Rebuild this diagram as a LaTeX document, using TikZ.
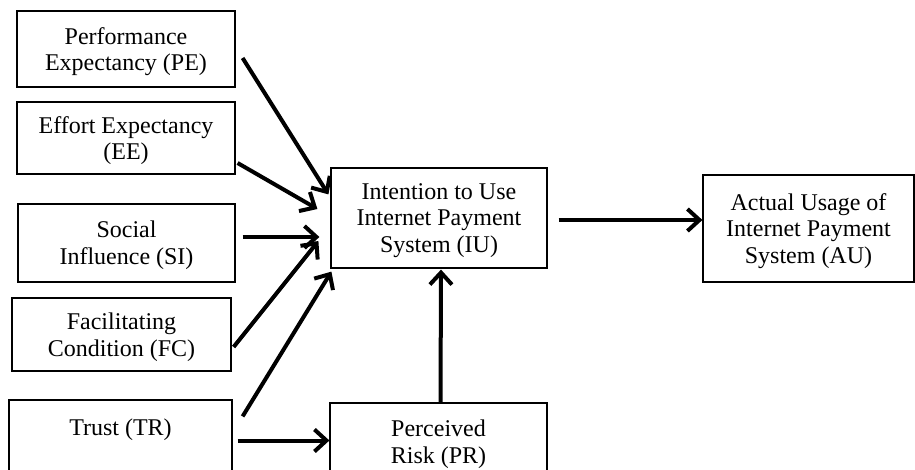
\documentclass[tikz,border=0pt]{standalone}
\usepackage{fontspec}
\setmainfont{Liberation Serif}
\usetikzlibrary{arrows.meta,calc}
\begin{document}
\begin{tikzpicture}[x=1pt,y=-1pt,
  box/.style={draw=black,line width=1.2pt,rectangle,align=center,inner sep=0pt,
    text depth=-1pt,font=\fontsize{24}{26.8}\selectfont},
  arr/.style={line width=4pt,-{Straight Barb[length=12pt,width=22pt]}}]
\fill[white] (0,0) rectangle (915,470);
\useasboundingbox (0,0) rectangle (915,470);
\node[box,minimum width=218pt,minimum height=76pt] (PE) at (126,49) {Performance\\Expectancy (PE)};
\node[box,minimum width=218pt,minimum height=72pt] (EE) at (126,138) {Effort Expectancy\\(EE)};
\node[box,minimum width=217pt,minimum height=78pt] (SI) at (126.5,243) {Social\\Influence (SI)};
\node[box,minimum width=219pt,minimum height=73pt] (FC) at (121.5,334.5) {Facilitating\\Condition (FC)};
\node[box,minimum width=223pt,minimum height=81pt] (TR) at (120.5,440.5) {Trust (TR)\\\mbox{}};
\node[box,minimum width=216pt,minimum height=100pt] (IU) at (439,218) {Intention to Use\\Internet Payment\\System (IU)};
\node[box,minimum width=217pt,minimum height=78pt] (PR) at (438.5,442) {Perceived\\Risk (PR)};
\node[box,minimum width=211pt,minimum height=107pt] (AU) at (808.5,228.5) {Actual Usage of\\Internet Payment\\System (AU)};
\draw[arr] ([xshift=7pt,yshift=-9pt]PE.east) -- ([xshift=-2pt,yshift=-27pt]IU.north west);
\draw[arr] ([xshift=2pt,yshift=-25pt]EE.east) -- ([xshift=-13pt,yshift=9pt]IU.west);
\draw[arr] ([xshift=7pt,yshift=6pt]SI.east) -- ([xshift=-11pt,yshift=-19pt]IU.west);
\draw[arr] ([xshift=2pt,yshift=-12.5pt]FC.east) -- ([xshift=-12pt,yshift=-23pt]IU.west);
\draw[arr] ([xshift=10pt,yshift=-17pt]TR.north east) -- ([xshift=1pt,yshift=-3pt]IU.south west);
\draw[arr] ([xshift=5pt]TR.east) -- (TR.east -| PR.west);
\draw[arr] ([xshift=2pt]PR.north) -- ([xshift=2pt,yshift=-1pt]IU.south);
\draw[arr] ([xshift=11pt,yshift=-2pt]IU.east) -- ([yshift=-2pt]IU.east -| AU.west);
\end{tikzpicture}
\end{document}
